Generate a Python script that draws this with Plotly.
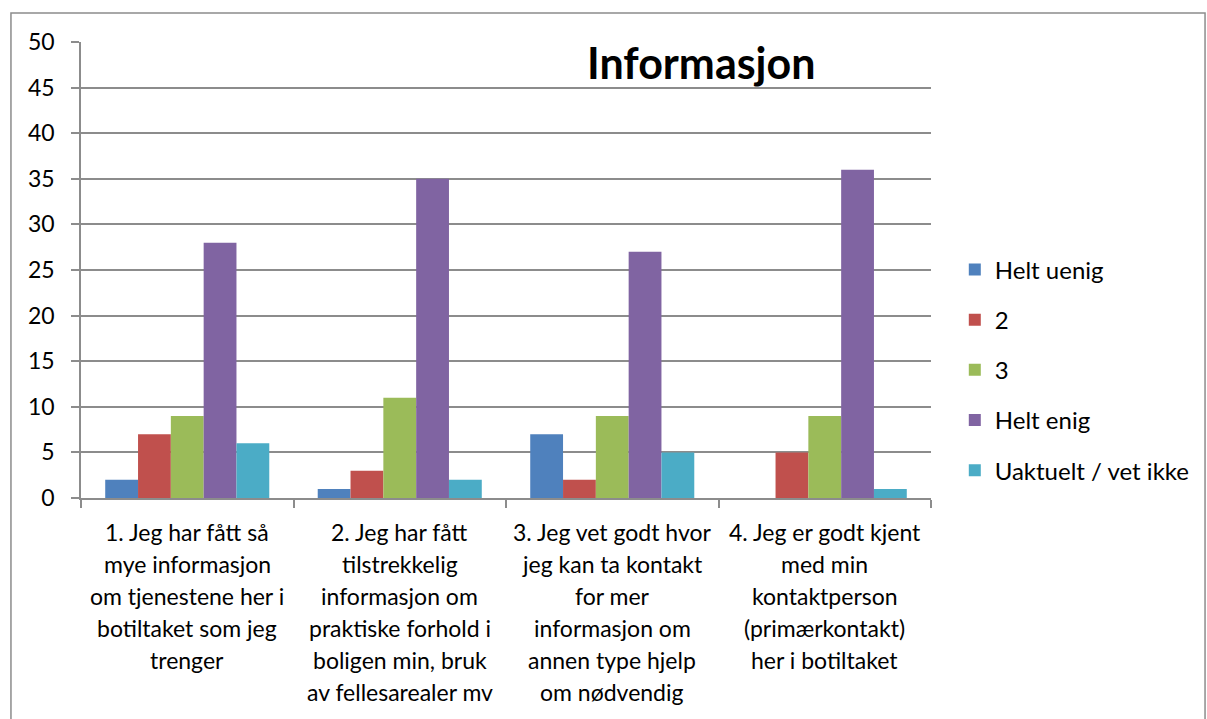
import plotly.graph_objects as go

# Survey results: "Informasjon"
categories = [
    "1. Jeg har fått så mye informasjon om tjenestene her i botiltaket som jeg trenger",
    "2. Jeg har fått tilstrekkelig informasjon om praktiske forhold i boligen min, bruk av fellesarealer mv",
    "3. Jeg vet godt hvor jeg kan ta kontakt for mer informasjon om annen type hjelp om nødvendig",
    "4. Jeg er godt kjent med min kontaktperson (primærkontakt) her i botiltaket",
]
category_lines = [
    ["1. Jeg har fått så", "mye informasjon", "om tjenestene her i", "botiltaket som jeg", "trenger"],
    ["2. Jeg har fått", "tilstrekkelig", "informasjon om", "praktiske forhold i", "boligen min, bruk", "av fellesarealer mv"],
    ["3. Jeg vet godt hvor", "jeg kan ta kontakt", "for mer", "informasjon om", "annen type hjelp", "om nødvendig"],
    ["4. Jeg er godt kjent", "med min", "kontaktperson", "(primærkontakt)", "her i botiltaket"],
]
series_names = ["Helt uenig", "2", "3", "Helt enig", "Uaktuelt / vet ikke"]
helt_uenig = [2, 1, 7, 0]
to = [7, 3, 2, 5]
tre = [9, 11, 9, 9]
helt_enig = [28, 35, 27, 36]
uaktuelt = [6, 2, 5, 1]
y_ticks = [0, 5, 10, 15, 20, 25, 30, 35, 40, 45, 50]

series_values = [helt_uenig, to, tre, helt_enig, uaktuelt]
colors = ["#4F81BD", "#C0504D", "#9BBB59", "#8064A2", "#4BACC6"]

FONT = "Lato, Calibri, sans-serif"
GRID = "#8C8C8C"

fig = go.Figure()
for name, vals, col in zip(series_names, series_values, colors):
    fig.add_trace(go.Bar(
        x=categories, y=vals, name=name, legendgroup=name,
        marker=dict(color=col, line=dict(width=0)),
    ))

# Multi-line category labels below the axis
for cat, lines in zip(categories, category_lines):
    for i, line in enumerate(lines):
        fig.add_annotation(
            x=cat, y=0, xref="x", yref="y", text=line, showarrow=False,
            yanchor="middle", xanchor="center", yshift=-34 - 32 * i,
            font=dict(family=FONT, size=23, color="#000000"),
        )

# Chart title inside the plot area
fig.add_annotation(
    x=0.729, y=0.955, xref="paper", yref="paper", text="<b>Informasjon</b>",
    xanchor="center", yanchor="middle", showarrow=False,
    font=dict(family=FONT, size=43, color="#000000"),
)

# Outer chart border
fig.add_shape(
    type="rect", xref="paper", yref="paper",
    x0=-0.0824, x1=1.3224, y0=-0.6, y1=1.0636,
    line=dict(color=GRID, width=1.5), fillcolor="rgba(0,0,0,0)", layer="below",
)

fig.update_layout(
    width=1207, height=719,
    margin=dict(l=81, r=276, t=42, b=221),
    paper_bgcolor="white", plot_bgcolor="white",
    barmode="group", bargap=0.228, bargroupgap=0,
    font=dict(family=FONT, size=23, color="#000000"),
    showlegend=True,
    legend=dict(
        x=1.028, y=0.281, xanchor="left", yanchor="middle",
        font=dict(family=FONT, size=24, color="#000000"),
        tracegroupgap=16, itemwidth=30,
    ),
)
fig.update_xaxes(
    type="category", showticklabels=False, tickson="boundaries",
    ticks="outside", ticklen=8, tickcolor=GRID, tickwidth=1.5,
    showline=True, linecolor=GRID, linewidth=1.5, showgrid=False,
    range=[-0.5, 3.5],
)
fig.update_yaxes(
    range=[0, 50], tickvals=y_ticks, ticks="outside", ticklen=8,
    tickcolor=GRID, tickwidth=1.5, showline=True, linecolor=GRID,
    linewidth=1.5, showgrid=True, gridcolor=GRID, gridwidth=1.5,
    zeroline=False, tickfont=dict(family=FONT, size=23), ticklabelstandoff=12,
)

fig.write_html("out.html")
